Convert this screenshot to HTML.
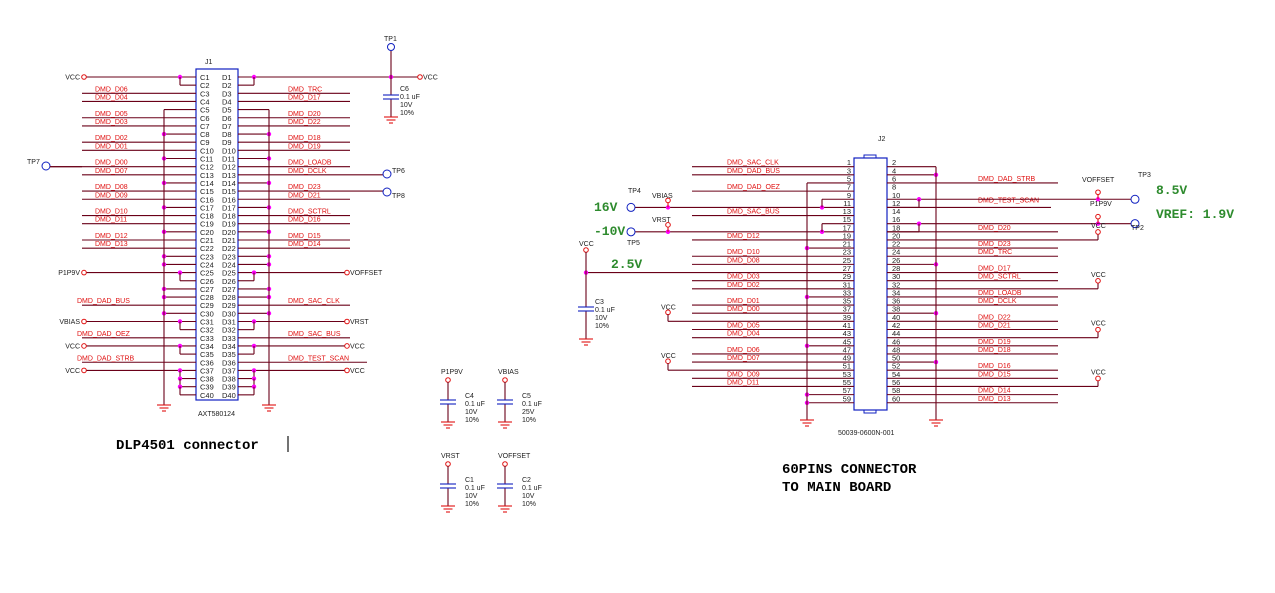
<!DOCTYPE html>
<html><head><meta charset="utf-8"><style>
html,body{margin:0;padding:0;background:#fff;width:1275px;height:593px;overflow:hidden}
svg{display:block}
text{font-family:"Liberation Sans",Arial,sans-serif}
.lb{fill:#e01010;font-size:7px}
.pn{fill:#222;font-size:7.5px}
.bk{fill:#222;font-size:7px}
.gr{fill:#2e8b2e;font-family:"Liberation Mono",monospace;font-weight:bold;font-size:13px}
.big{fill:#000;font-family:"Liberation Mono",monospace;font-weight:bold;font-size:14px}
</style></head><body>
<svg id="s" width="1275" height="593" viewBox="0 0 1275 593" xmlns="http://www.w3.org/2000/svg"></svg>
<script>
var S=document.getElementById('s'),o='';
var W='#6a0018',R='#e01010',B='#1020c0',M='#ff00ff';
function L(a,b,c,d,col){o+='<line x1="'+a+'" y1="'+b+'" x2="'+c+'" y2="'+d+'" stroke="'+(col||W)+'" stroke-width="1.1"/>';}
function D(x,y){o+='<circle cx="'+x+'" cy="'+y+'" r="2.2" fill="'+M+'"/>';}
function T(x,y,s,c,a){o+='<text x="'+x+'" y="'+y+'" class="'+c+'"'+(a?' text-anchor="'+a+'"':'')+'>'+s+'</text>';}
function C(x,y,r,col){o+='<circle cx="'+x+'" cy="'+y+'" r="'+r+'" fill="none" stroke="'+col+'" stroke-width="1"/>';}
function G(x,y){L(x-7,y,x+7,y,R);L(x-4.5,y+3,x+4.5,y+3,R);L(x-2,y+6,x+2,y+6,R);}
function CAP(x,y1,y2,py){L(x,y1,x,py-2);L(x,py+2,x,y2);L(x-8,py-2,x+8,py-2,B);L(x-8,py+2,x+8,py+2,B);G(x,y2);}
/* J1 */
function y1(i){return 77+(i-1)*8.15;}
o+='<rect x="196" y="69" width="42" height="331" fill="none" stroke="'+B+'" stroke-width="1.2"/>';
T(205,64,'J1','bk');T(198,416,'AXT580124','bk');
for(var i=1;i<=40;i++){T(200,y1(i)+3,'C'+i,'pn');T(222,y1(i)+3,'D'+i,'pn');}
var Lsp={3:'DMD_D06',4:'DMD_D04',6:'DMD_D05',7:'DMD_D03',9:'DMD_D02',10:'DMD_D01',12:'DMD_D00',13:'DMD_D07',15:'DMD_D08',16:'DMD_D09',18:'DMD_D10',19:'DMD_D11',21:'DMD_D12',22:'DMD_D13',29:'DMD_DAD_BUS',33:'DMD_DAD_OEZ',36:'DMD_DAD_STRB'};
var Rsp={3:'DMD_TRC',4:'DMD_D17',6:'DMD_D20',7:'DMD_D22',9:'DMD_D18',10:'DMD_D19',12:'DMD_LOADB',13:'DMD_DCLK',15:'DMD_D23',16:'DMD_D21',18:'DMD_SCTRL',19:'DMD_D16',21:'DMD_D15',22:'DMD_D14',29:'DMD_SAC_CLK',33:'DMD_SAC_BUS',36:'DMD_TEST_SCAN'};
var bus=[5,8,11,14,17,20,23,24,27,28,30];
for(var k in Lsp){var y=y1(+k);var lx=(+k>=29)?77:95;L(k==12?50:82,y,196,y);T(lx,y-2,Lsp[k],'lb');}
for(var k in Rsp){var y=y1(+k);L(238,y,k==13||k==15?383:(k==36?367:350),y);T(288,y-2,Rsp[k],'lb');}
bus.forEach(function(k){var y=y1(k);L(164,y,196,y);L(238,y,269,y);if(k!=5){D(164,y);D(269,y);}});
L(164,y1(5),164,405);G(164,405);L(269,y1(5),269,405);G(269,405);
function pw(k,ln,rn,jogs){var y=y1(k);L(86,y,196,y);C(84,y,2.3,R);T(80,y+2.5,ln,'bk','end');
 if(k==1){L(238,y,418,y);C(420,y,2.3,R);T(423,y+2.5,rn,'bk');}else{L(238,y,345,y);C(347,y,2.3,R);T(350,y+2.5,rn,'bk');}
 for(var j=1;j<=jogs;j++){var yy=y1(k+j);D(180,y1(k+j-1));D(254,y1(k+j-1));L(180,y1(k+j-1),180,yy);L(180,yy,196,yy);L(254,y1(k+j-1),254,yy);L(238,yy,254,yy);}}
pw(1,'VCC','VCC',1);pw(25,'P1P9V','VOFFSET',1);pw(31,'VBIAS','VRST',1);pw(34,'VCC','VCC',1);pw(37,'VCC','VCC',3);
D(391,y1(1));
/* TP1 + C6 */
C(391,47,3.5,B);T(384,41,'TP1','bk');L(391,51,391,y1(1));CAP(391,y1(1),117,97);T(400,91,'C6','bk');T(400,99,'0.1 uF','bk');T(400,107,'10V','bk');T(400,115,'10%','bk');
/* TPs J1 */
C(46,166,4,B);T(27,164,'TP7','bk');L(50,y1(12),82,y1(12));
C(387,174,4,B);T(392,173,'TP6','bk');C(387,192,4,B);T(392,198,'TP8','bk');
T(116,449,'DLP4501 connector','big');L(288,436,288,452,'#000');
/* J2 */
function r(k){return 166.7+(k-1)*8.14;}
o+='<rect x="854" y="158" width="33" height="252" fill="none" stroke="'+B+'" stroke-width="1.2"/>';
o+='<rect x="864" y="155" width="12" height="3" fill="none" stroke="'+B+'"/><rect x="864" y="410" width="12" height="3" fill="none" stroke="'+B+'"/>';
T(878,141,'J2','bk');T(838,435,'50039-0600N-001','bk');
for(var k=1;k<=30;k++){T(851,r(k)-1.5,''+(2*k-1),'pn','end');T(892,r(k)-1.5,''+(2*k),'pn');}
var JL={1:'DMD_SAC_CLK',2:'DMD_DAD_BUS',4:'DMD_DAD_OEZ',7:'DMD_SAC_BUS',10:'DMD_D12',12:'DMD_D10',13:'DMD_D08',15:'DMD_D03',16:'DMD_D02',18:'DMD_D01',19:'DMD_D00',21:'DMD_D05',22:'DMD_D04',24:'DMD_D06',25:'DMD_D07',27:'DMD_D09',28:'DMD_D11'};
for(var k in JL){var y=r(+k);L(692,y,854,y);T(727,y-2,JL[k],'lb');}
[11,17,23,29,30].forEach(function(k){L(807,r(k),854,r(k));D(807,r(k));});
L(807,r(3),854,r(3));L(807,r(3),807,420);G(807,420);
[6,9].forEach(function(k){L(635,r(k),854,r(k));D(668,r(k));D(822,r(k));L(822,r(k),822,r(k-1));L(822,r(k-1),854,r(k-1));});
C(631,r(6),4,B);T(628,193,'TP4','bk');T(594,211,'16V','gr');C(668,r(6)-7,2.3,R);L(668,r(6)-5,668,r(6),R);T(652,198,'VBIAS','bk');
C(631,r(9),4,B);T(627,245,'TP5','bk');T(594,235,'-10V','gr');C(668,r(9)-7,2.3,R);L(668,r(9)-5,668,r(9),R);T(652,222,'VRST','bk');
L(586,r(14),854,r(14));D(586,r(14));C(586,250,2.3,R);T(579,246,'VCC','bk');L(586,252,586,r(14));CAP(586,r(14),339,309);T(611,268,'2.5V','gr');
T(595,304,'C3','bk');T(595,312,'0.1 uF','bk');T(595,320,'10V','bk');T(595,328,'10%','bk');
[20,26].forEach(function(k){L(668,r(k),854,r(k));C(668,r(k)-9,2.3,R);L(668,r(k)-7,668,r(k));T(661,r(k)-12,'VCC','bk');});
var JR={3:'DMD_DAD_STRB',9:'DMD_D20',11:'DMD_D23',12:'DMD_TRC',14:'DMD_D17',15:'DMD_SCTRL',17:'DMD_LOADB',18:'DMD_DCLK',20:'DMD_D22',21:'DMD_D21',23:'DMD_D19',24:'DMD_D18',26:'DMD_D16',27:'DMD_D15',29:'DMD_D14',30:'DMD_D13'};
for(var k in JR){var y=r(+k);L(887,y,1058,y);T(978,y-2,JR[k],'lb');}
L(887,r(6),1051,r(6));T(978,r(6)-5,'DMD_TEST_SCAN','lb');
[2,13,19,25].forEach(function(k){L(887,r(k),936,r(k));D(936,r(k));});
L(887,r(1),936,r(1));L(936,r(1),936,420);G(936,420);
[5,8].forEach(function(k){L(887,r(k),1131,r(k));D(919,r(k));D(1098,r(k));L(919,r(k),919,r(k)+8.14);L(887,r(k)+8.14,919,r(k)+8.14);C(1098,r(k)-7,2.3,R);L(1098,r(k)-5,1098,r(k),R);C(1135,r(k),4,B);});
T(1082,182,'VOFFSET','bk');T(1138,177,'TP3','bk');T(1156,194,'8.5V','gr');
T(1090,206,'P1P9V','bk');T(1131,230,'TP2','bk');T(1156,218,'VREF:  1.9V','gr');
[10,16,22,28].forEach(function(k){var y=r(k);L(887,y,1098,y);L(1098,y,1098,y-6);C(1098,y-8,2.3,R);T(1091,y-12,'VCC','bk');});
T(782,473,'60PINS CONNECTOR','big');T(782,491,'TO MAIN BOARD','big');
/* small caps */
function sc(x,ty,lab,n,v){C(x,ty+6,2.3,R);T(x-7,ty,lab,'bk');CAP(x,ty+8,ty+48,ty+28);T(x+17,ty+24,n,'bk');T(x+17,ty+32,'0.1 uF','bk');T(x+17,ty+40,v,'bk');T(x+17,ty+48,'10%','bk');}
sc(448,374,'P1P9V','C4','10V');sc(505,374,'VBIAS','C5','25V');sc(448,458,'VRST','C1','10V');sc(505,458,'VOFFSET','C2','10V');
S.innerHTML=o;
</script>
</body></html>
